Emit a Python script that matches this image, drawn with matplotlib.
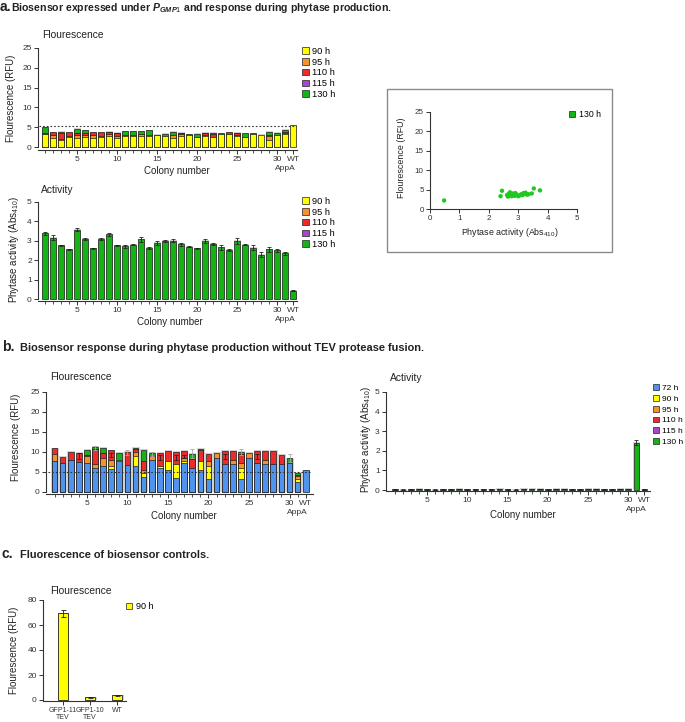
import numpy as np
import matplotlib
matplotlib.use("Agg")
import matplotlib.pyplot as plt
from matplotlib.patches import Rectangle

plt.rcParams['font.family'] = ['Liberation Sans', 'DejaVu Sans']
plt.rcParams['mathtext.fontset'] = 'custom'
plt.rcParams['mathtext.rm'] = 'Liberation Sans'
plt.rcParams['mathtext.it'] = 'Liberation Sans:italic:bold'
plt.rcParams['mathtext.bf'] = 'Liberation Sans:bold'

W, H = 685, 722
nan = np.nan

# ---- data ----
positions = np.arange(1, 33)          # 1-30 colonies, 31 = AppA, 32 = WT
time_labels = ['72 h', '90 h', '95 h', '110 h', '115 h', '130 h']

# panel a: fluorescence (RFU) per time point
a_f90 = [3.2, 2.4, 1.8, 2.6, 2.4, 2.6, 2.4, 2.6, 2.9, 2.2, 2.9, 2.8, 2.9, 2.8, 3.1, 2.9,
         2.4, 2.9, 3.0, 2.5, 2.9, 2.6, 3.3, 3.2, 2.9, 2.6, 3.4, 3.1, 1.9, 3.0, 3.2, 5.5]
a_f95 = [3.3, 3.0, 2.0, 2.8, 3.0, 3.0, 3.0, 2.9, 3.2, 2.9, 3.0, 3.0, 3.2, 3.0, nan, nan,
         3.1, 3.4, nan, nan, 3.1, nan, nan, 3.3, 3.1, nan, nan, nan, 2.8, nan, 3.6, nan]
a_f110 = [3.4, 3.7, 3.6, 3.7, 3.5, 3.5, 3.7, 3.7, 3.8, 3.6, nan, nan, 3.4, nan, nan, nan,
          nan, 3.6, nan, nan, 3.6, 3.3, nan, 3.7, 3.6, nan, nan, nan, 3.0, nan, 3.8, nan]
a_f115 = [3.5, nan, nan, nan, 3.6, nan, nan, nan, nan, nan, nan, nan, nan, nan, nan, nan,
          nan, nan, nan, nan, nan, nan, nan, nan, nan, nan, nan, nan, nan, nan, nan, nan]
a_f130 = [5.0, 3.6, 3.8, 3.5, 4.6, 4.2, 3.6, 3.6, 3.9, 3.5, 4.0, 4.0, 4.0, 4.2, 3.0, 3.4,
          3.9, 3.5, 3.2, 3.3, 3.5, 3.6, 3.5, 3.6, 3.5, 3.5, 3.5, nan, 3.9, 3.6, 4.4, nan]

# panel a: phytase activity (Abs410) at 130 h
a_act = [3.38, 3.16, 2.76, 2.56, 3.58, 3.09, 2.61, 3.09, 3.33, 2.76, 2.73, 2.80, 3.07, 2.63,
         2.88, 2.99, 3.00, 2.83, 2.70, 2.61, 2.99, 2.83, 2.66, 2.53, 2.99, 2.80, 2.65, 2.29,
         2.56, 2.51, 2.36, 0.44]
a_act_err = [0.10, 0.14, 0.04, 0.02, 0.08, 0.03, 0.02, 0.03, 0.08, 0.03, 0.08, 0.04, 0.15,
             0.06, 0.12, 0.03, 0.08, 0.08, 0.03, 0.02, 0.12, 0.04, 0.12, 0.04, 0.14, 0.04,
             0.12, 0.12, 0.12, 0.06, 0.08, 0.02]

# panel a inset: fluorescence vs activity (130 h)
sc_act = [0.48, 2.40, 2.45, 2.62, 2.65, 2.68, 2.70, 2.72, 2.75, 2.78, 2.80, 2.83, 2.85, 2.88,
          2.90, 2.93, 2.95, 3.00, 3.05, 3.10, 3.15, 3.18, 3.20, 3.25, 3.30, 3.35, 3.46, 3.53, 3.74]
sc_fl = [2.2, 3.3, 4.7, 3.6, 3.2, 3.9, 3.5, 4.3, 3.8, 3.3, 4.0, 3.6, 3.7, 3.4, 4.1, 3.8, 3.6,
         3.3, 3.5, 3.8, 3.6, 4.1, 3.9, 4.2, 3.7, 3.8, 4.0, 5.3, 4.8]

# panel b: fluorescence (RFU) per time point
b_f72 = [7.7, 7.3, 7.9, 7.5, 7.3, 6.0, 6.6, 5.7, 7.7, 6.8, 6.6, 3.8, 7.9, 6.0, 5.6, 3.4,
         7.3, 6.0, 5.6, 3.2, 8.6, 7.1, 6.9, 3.2, 8.6, 7.2, 6.9, 7.1, 7.1, 7.3, 2.6, 5.4]
b_f90 = [nan, nan, nan, nan, nan, nan, nan, 6.4, 8.1, nan, 9.0, 4.7, nan, 6.4, 7.7, 7.0,
         7.8, nan, 7.8, 6.6, nan, nan, nan, 6.0, nan, nan, nan, nan, nan, nan, 3.2, nan]
b_f95 = [9.6, nan, nan, nan, 9.0, 7.0, 8.5, 8.1, nan, nan, 10.0, 5.4, 9.1, nan, nan, nan,
         8.5, nan, nan, 7.8, 9.7, nan, 8.0, 7.3, 9.7, nan, 8.0, nan, nan, nan, 3.9, nan]
b_f110 = [10.9, 8.8, 10.0, 9.8, nan, 10.7, 9.8, 10.4, nan, 10.0, 10.7, 7.7, nan, 9.8, 10.3,
          10.0, 10.2, 8.2, 10.5, 9.6, nan, 10.2, 10.3, 9.5, nan, 10.2, 10.3, 10.2, 9.2, nan,
          4.3, nan]
b_f115 = [nan, nan, nan, nan, 9.2, nan, nan, nan, nan, nan, nan, nan, nan, nan, nan, nan,
          nan, nan, nan, nan, nan, nan, nan, nan, nan, nan, nan, nan, 8.0, nan, nan, nan]
b_f130 = [nan, nan, nan, nan, 10.5, 11.2, 11.1, nan, 9.7, nan, 11.1, 10.5, 9.8, nan, nan, nan,
          nan, 9.5, 10.7, nan, nan, nan, nan, 10.1, nan, nan, nan, nan, nan, 8.4, 4.7, nan]
# error bars visible in panel b fluorescence
b_err_pos = [4, 8, 14, 16, 17, 22, 26, 6, 10, 13, 18, 24, 30]
b_err_mid = [9.0, 9.2, 8.6, 8.6, 8.8, 8.8, 8.8, 10.9, 9.8, 9.4, 9.6, 10.0, 8.6]
b_err_val = [0.7, 0.5, 0.7, 0.7, 0.4, 0.6, 0.6, 0.5, 0.6, 0.5, 1.2, 0.7, 1.0]
b_err_dark = [True, True, True, True, True, True, True, False, False, False, False, False, False]

# panel b: phytase activity
b_act = [0.03, 0.02, 0.03, 0.04, 0.03, 0.02, 0.03, 0.03, 0.05, 0.03, 0.03, 0.03, 0.03, 0.04,
         0.03, 0.02, 0.04, 0.04, 0.06, 0.03, 0.05, 0.05, 0.03, 0.03, 0.04, 0.05, 0.03, 0.03,
         0.04, 0.04, 2.41, 0.03]
b_act_err = [0.01] * 30 + [0.12, 0.01]

# panel c: controls
c_labels = ['GFP1-11\nTEV', 'GFP1-10\nTEV', 'WT']
c_f90 = [69.3, 2.1, 3.7]
c_err = [2.6, 0.3, 0.2]

colors = {'72 h': '#4f93ec', '90 h': '#ffff00', '95 h': '#f4922e', '110 h': '#ec2c2c',
          '115 h': '#a848c8', '130 h': '#16b316'}
AX = '#333333'
TICK = 6.0


def px_axes(left, top, right, bottom):
    return fig.add_axes([left / W, 1 - bottom / H, (right - left) / W, (bottom - top) / H])


def px_text(x, y, s, **kw):
    kw.setdefault('va', 'center')
    kw.setdefault('color', '#222222')
    fig.text(x / W, 1 - y / H, s, **kw)


def style(ax, ylo, yhi, yticks):
    for side in ('top', 'right'):
        ax.spines[side].set_visible(False)
    for side in ('left', 'bottom'):
        ax.spines[side].set_color(AX)
        ax.spines[side].set_linewidth(0.8)
    ax.spines['left'].set_bounds(ylo, yhi)
    ax.set_yticks(yticks)
    ax.tick_params(labelsize=TICK, length=3, width=0.7, pad=1.5, colors=AX, labelcolor='#333333')
    ax.tick_params(which='minor', length=1.8, width=0.6, colors=AX)
    ax.patch.set_alpha(0)


def colony_axis(ax):
    ax.set_xticks([5, 10, 15, 20, 25, 30, 32])
    ax.set_xticklabels(['5', '10', '15', '20', '25', '30', 'WT'])
    ax.set_xticks(np.arange(1, 32), minor=True)
    ax.annotate('AppA', xy=(31, 0), xycoords=('data', 'axes fraction'), xytext=(0, -13.5),
                textcoords='offset points', ha='center', va='center', fontsize=TICK,
                color='#333333')


def layered_bars(ax, x, series, names, width, pad):
    stack = np.array(series, dtype=float)
    tops = np.nanmax(stack, axis=0)
    ax.bar(x + 0.06, tops + pad, width + 0.22, color='#d2d2d2', zorder=1)
    for k in range(len(series) - 1, -1, -1):
        vals = stack[k]
        ok = ~np.isnan(vals)
        ax.bar(x[ok], vals[ok], width, color=colors[names[k]], edgecolor='#1e1e1e',
               linewidth=0.5, zorder=10 - k)


def legend(ax, names, x, y, spacing=0.18, size=6.7):
    handles = [Rectangle((0, 0), 1, 1, facecolor=colors[n], edgecolor='#222222', lw=0.5)
               for n in names]
    ax.legend(handles, names, loc='upper left', bbox_to_anchor=(x / W, 1 - y / H),
              bbox_transform=fig.transFigure, frameon=False, fontsize=size,
              handlelength=0.7, handleheight=0.7, handletextpad=0.4,
              labelspacing=spacing, borderpad=0, borderaxespad=0)


fig = plt.figure(figsize=(W / 100, H / 100), dpi=100)
x = positions.astype(float)

# ---- headings ----
px_text(0, 7, 'a.', fontsize=10, fontweight='bold')
px_text(11, 8, r'Biosensor expressed under $\mathit{P}_{\mathit{GMP1}}$ and response during phytase production.',
        fontsize=7.6, fontweight='bold')
px_text(2, 347, 'b.', fontsize=10, fontweight='bold')
px_text(20, 348, 'Biosensor response during phytase production without TEV protease fusion.',
        fontsize=7.9, fontweight='bold')
px_text(2, 554, 'c.', fontsize=10, fontweight='bold')
px_text(20, 555, 'Fluorescence of biosensor controls.', fontsize=7.9, fontweight='bold')

# ---- panel a fluorescence ----
ax1 = px_axes(38, 48, 297, 150)
layered_bars(ax1, x, [a_f90, a_f95, a_f110, a_f115, a_f130],
             ['90 h', '95 h', '110 h', '115 h', '130 h'], 0.66, 0.15)
ax1.plot([0.3, 32.4], [5.2, 5.2], ls=(0, (1.5, 1.8)), color='#333333', lw=0.8, zorder=20)
ax1.set_xlim(0.125, 32.5)
ax1.set_ylim(-0.75, 25)
style(ax1, 0, 25, [0, 5, 10, 15, 20, 25])
colony_axis(ax1)
legend(ax1, ['90 h', '95 h', '110 h', '115 h', '130 h'], 302, 47)
px_text(42, 35, 'Flourescence', fontsize=7.4)
px_text(11, 98, 'Flourescence (RFU)', fontsize=7.0, rotation=90, ha='center')
px_text(177, 171, 'Colony number', fontsize=7.0, ha='center')

# ---- panel a activity ----
ax2 = px_axes(38, 202, 297, 301)
ax2.bar(x + 0.06, np.array(a_act) + 0.04, 0.88, color='#d2d2d2', zorder=1)
ax2.bar(x, a_act, 0.66, color=colors['130 h'], edgecolor='#1e1e1e', linewidth=0.5, zorder=5)
ax2.errorbar(x, a_act, yerr=a_act_err, fmt='none', ecolor='#222222', elinewidth=0.6,
             capsize=1.6, capthick=0.6, zorder=6)
ax2.set_xlim(0.125, 32.5)
ax2.set_ylim(-0.1, 5)
style(ax2, 0, 5, [0, 1, 2, 3, 4, 5])
colony_axis(ax2)
legend(ax2, ['90 h', '95 h', '110 h', '115 h', '130 h'], 302, 197)
px_text(41, 190, 'Activity', fontsize=7.4)
px_text(14, 250, r'Phytase activity (Abs$_{\mathrm{410}}$)', fontsize=7.0, rotation=90, ha='center')
px_text(170, 322, 'Colony number', fontsize=7.0, ha='center')

# ---- panel a inset scatter ----
fig.patches.append(Rectangle((387 / W, 1 - 252 / H), 225 / W, 163 / H,
                             transform=fig.transFigure, fill=False, edgecolor='#8a8a8a', lw=1))
ax3 = px_axes(430, 112, 577, 209)
ax3.scatter(sc_act, sc_fl, s=10, color='#22c822', edgecolors='none', zorder=5)
ax3.set_xlim(0, 5)
ax3.set_ylim(0, 25)
style(ax3, 0, 25, [0, 5, 10, 15, 20, 25])
ax3.set_xticks([0, 1, 2, 3, 4, 5])
ax3.tick_params(labelsize=5.8)
legend(ax3, ['130 h'], 569, 110, size=6.3)
px_text(401, 158, 'Flourescence (RFU)', fontsize=6.4, rotation=90, ha='center')
px_text(510, 232, r'Phytase activity (Abs$_{\mathrm{410}}$)', fontsize=6.4, ha='center')

# ---- panel b fluorescence ----
ax4 = px_axes(46, 392, 313, 494)
layered_bars(ax4, x, [b_f72, b_f90, b_f95, b_f110, b_f115, b_f130], time_labels, 0.7, 0.2)
for p, m, e, dark in zip(b_err_pos, b_err_mid, b_err_val, b_err_dark):
    ax4.errorbar([p], [m], yerr=[e], fmt='none', ecolor='#222222' if dark else '#a8a8a8',
                 elinewidth=0.6, capsize=1.6, capthick=0.6, zorder=20)
ax4.plot([0.2, 32.5], [5, 5], ls=(0, (1.5, 1.8)), color='#333333', lw=0.8, zorder=20)
ax4.set_xlim(-0.05, 32.9)
ax4.set_ylim(-0.5, 25)
style(ax4, 0, 25, [0, 5, 10, 15, 20, 25])
colony_axis(ax4)
px_text(50, 377, 'Flourescence', fontsize=7.4)
px_text(16, 437, 'Flourescence (RFU)', fontsize=7.0, rotation=90, ha='center')
px_text(184, 516, 'Colony number', fontsize=7.0, ha='center')

# ---- panel b activity ----
ax5 = px_axes(386, 392, 650, 491)
ax5.bar(x + 0.06, np.array(b_act) + 0.04, 0.9, color='#d2d2d2', zorder=1)
ax5.bar(x, b_act, 0.7, color=colors['130 h'], edgecolor='#1e1e1e', linewidth=0.5, zorder=5)
ax5.errorbar(x, b_act, yerr=b_act_err, fmt='none', ecolor='#222222', elinewidth=0.6,
             capsize=1.6, capthick=0.6, zorder=6)
ax5.set_xlim(-0.1, 32.7)
ax5.set_ylim(-0.05, 5)
style(ax5, 0, 5, [0, 1, 2, 3, 4, 5])
colony_axis(ax5)
legend(ax5, time_labels, 653, 384, spacing=0.36, size=6.0)
px_text(390, 378, 'Activity', fontsize=7.4)
px_text(366, 440, r'Phytase activity (Abs$_{\mathrm{410}}$)', fontsize=7.0, rotation=90, ha='center')
px_text(523, 515, 'Colony number', fontsize=7.0, ha='center')

# ---- panel c ----
ax6 = px_axes(43, 600, 126, 701)
cx = np.arange(len(c_labels))
ax6.bar(cx + 0.03, np.array(c_f90) + 0.6, 0.42, color='#d2d2d2', zorder=1)
ax6.bar(cx, c_f90, 0.35, color=colors['90 h'], edgecolor='#1e1e1e', linewidth=0.6, zorder=5)
ax6.errorbar(cx, c_f90, yerr=c_err, fmt='none', ecolor='#222222', elinewidth=0.6,
             capsize=1.8, capthick=0.6, zorder=6)
ax6.set_xlim(-0.74, 2.33)
ax6.set_ylim(-0.8, 80)
style(ax6, 0, 80, [0, 20, 40, 60, 80])
ax6.set_xticks(cx)
ax6.set_xticklabels(c_labels, linespacing=0.95)
ax6.tick_params(axis='x', labelsize=5.0)
legend(ax6, ['90 h'], 126, 602, size=6.5)
px_text(50, 591, 'Flourescence', fontsize=7.4)
px_text(14, 650, 'Flourescence (RFU)', fontsize=7.0, rotation=90, ha='center')

fig.savefig('out.png', dpi=100)
